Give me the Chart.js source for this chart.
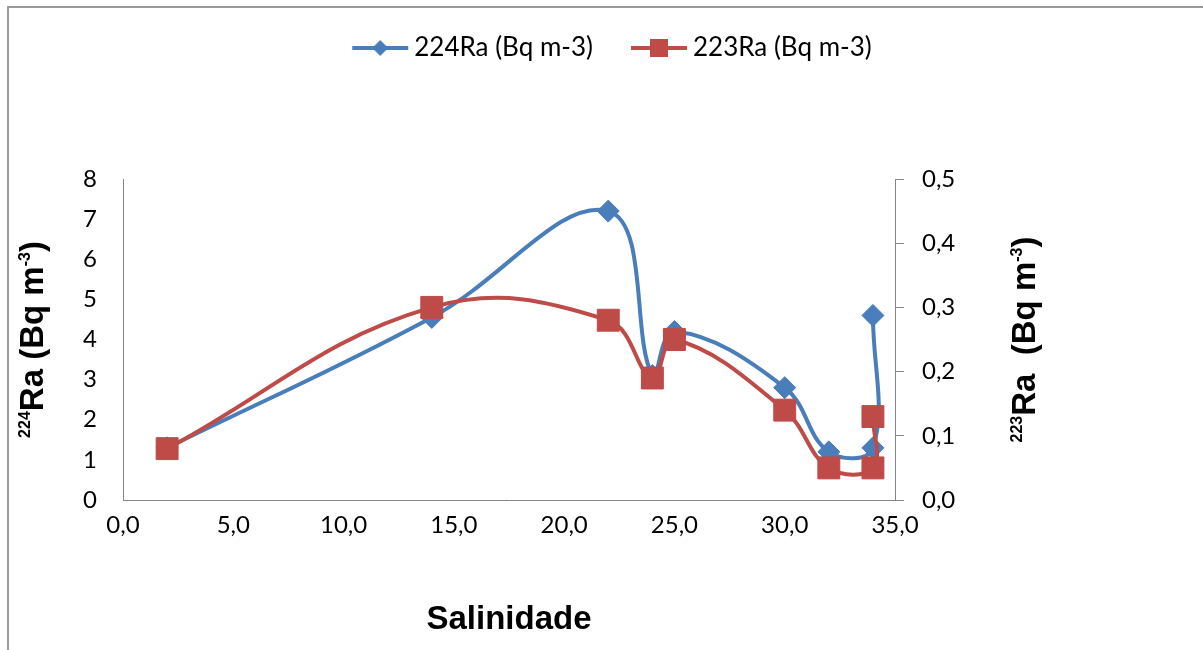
<!DOCTYPE html>
<html>
<head>
<meta charset="utf-8">
<script src="https://cdn.jsdelivr.net/npm/chart.js@4.4.1/dist/chart.umd.min.js"></script>
<style>
html, body { margin: 0; padding: 0; background: #fff; overflow: hidden; }
#frame { position: absolute; left: 7px; top: 6px; width: 1400px; height: 800px; border-top: 2px solid #9a9a9a; border-left: 2px solid #9a9a9a; }
#wrap { position: absolute; left: 0; top: 0; width: 1203px; height: 650px; }
</style>
</head>
<body>
<div id="frame"></div>
<div id="wrap"><canvas id="raChart" width="1203" height="650"></canvas></div>
<script>
// salinity of each station (x), same rows for both isotopes
const salinity = [2, 14, 22, 24, 25, 30, 32, 34, 34];
const ra224 = [1.3, 4.55, 7.2, 3.1, 4.2, 2.8, 1.2, 1.3, 4.6];
const ra223 = [0.08, 0.30, 0.28, 0.19, 0.25, 0.14, 0.05, 0.05, 0.13];

const seriesNames = ['224Ra (Bq m-3)', '223Ra (Bq m-3)'];
const xTitle = 'Salinidade';
const leftTitle = [{ text: '224', sup: true }, { text: 'Ra (Bq m' }, { text: '-3', sup: true }, { text: ')' }];
const rightTitle = [{ text: '223', sup: true }, { text: 'Ra  (Bq m' }, { text: '-3', sup: true }, { text: ')' }];

const BLUE = '#4a7ebb';
const RED = '#be4b48';
const AXIS = '#868686';

Chart.defaults.font.family = 'Lato, "Liberation Sans", sans-serif';
Chart.defaults.color = '#000';

function legendIcon(color, shape) {
    const c = document.createElement('canvas');
    c.width = 58; c.height = 20;
    const g = c.getContext('2d');
    g.strokeStyle = color; g.lineWidth = 4;
    g.beginPath(); g.moveTo(1, 10); g.lineTo(57, 10); g.stroke();
    g.fillStyle = color;
    if (shape === 'diamond') {
        g.beginPath(); g.moveTo(29, 2); g.lineTo(37, 10); g.lineTo(29, 18); g.lineTo(21, 10); g.closePath(); g.fill();
    } else {
        g.fillRect(20, 1, 18, 18);
    }
    return c;
}
const icons = [legendIcon(BLUE, 'diamond'), legendIcon(RED, 'square')];

function drawRotated(ctx, parts, x, y) {
    const mainFont = 'bold 33px "Liberation Sans", Arial, sans-serif';
    const supFont = 'bold 16px "Liberation Sans", Arial, sans-serif';
    ctx.save();
    ctx.translate(x, y);
    ctx.rotate(-Math.PI / 2);
    let total = 0;
    parts.forEach(p => { ctx.font = p.sup ? supFont : mainFont; p.w = ctx.measureText(p.text).width; total += p.w; });
    let cx = -total / 2;
    ctx.fillStyle = '#000';
    ctx.textBaseline = 'alphabetic';
    parts.forEach(p => {
        ctx.font = p.sup ? supFont : mainFont;
        ctx.fillText(p.text, cx, p.sup ? -13 : 0);
        cx += p.w;
    });
    ctx.restore();
}

const yTitles = {
    id: 'yTitles',
    afterDraw(chart) {
        const a = chart.chartArea;
        const mid = (a.top + a.bottom) / 2;
        drawRotated(chart.ctx, leftTitle, a.left - 80, mid);
        drawRotated(chart.ctx, rightTitle, a.right + 140, mid);
    }
};

const legendSpace = {
    id: 'legendSpace',
    afterInit(chart) {
        const legend = chart.legend;
        const fit = legend.fit;
        legend.fit = function () { fit.call(this); this.height = 189; };
    }
};

const comma = v => Number(v).toFixed(1).replace('.', ',');

new Chart(document.getElementById('raChart'), {
    type: 'line',
    data: {
        datasets: [
            {
                label: seriesNames[0],
                data: salinity.map((s, i) => ({ x: s, y: ra224[i] })),
                borderColor: BLUE, backgroundColor: BLUE,
                borderWidth: 4, tension: 0.4,
                pointStyle: 'rectRot', pointRadius: 11, pointBorderWidth: 1,
                pointBackgroundColor: BLUE, pointBorderColor: BLUE,
                yAxisID: 'y', order: 1
            },
            {
                label: seriesNames[1],
                data: salinity.map((s, i) => ({ x: s, y: ra223[i] })),
                borderColor: RED, backgroundColor: RED,
                borderWidth: 4, tension: 0.4,
                pointStyle: 'rect', pointRadius: 15.5, pointBorderWidth: 1,
                pointBackgroundColor: RED, pointBorderColor: RED,
                yAxisID: 'y1', order: 0
            }
        ]
    },
    options: {
        responsive: false,
        animation: false,
        layout: { padding: { top: -10, left: 28, right: 0, bottom: 0 } },
        scales: {
            x: {
                type: 'linear', min: 0, max: 35,
                grid: { display: false, drawTicks: false },
                border: { display: true, color: AXIS, width: 1 },
                ticks: { stepSize: 5, padding: 11, font: { size: 24 }, callback: v => comma(v) },
                title: { display: true, text: xTitle, padding: { top: 10, bottom: 10 }, font: { family: '"Liberation Sans", Arial, sans-serif', size: 33, weight: 'bold' } },
                afterFit: s => { s.height = 150; }
            },
            y: {
                position: 'left', min: 0, max: 8,
                grid: { display: false, drawTicks: false },
                border: { display: true, color: AXIS, width: 1 },
                ticks: { stepSize: 1, padding: 26, font: { size: 24 } },
                afterFit: s => { s.width = 95; }
            },
            y1: {
                position: 'right', min: 0, max: 0.5,
                grid: { display: true, drawOnChartArea: false, drawTicks: true, tickLength: 9, color: AXIS },
                border: { display: true, color: AXIS, width: 1 },
                ticks: { stepSize: 0.1, padding: 18, font: { size: 24 }, callback: v => comma(v) },
                afterFit: s => { s.width = 308; }
            }
        },
        plugins: {
            tooltip: { enabled: false },
            legend: {
                position: 'top',
                labels: {
                    usePointStyle: true,
                    pointStyleWidth: 42,
                    padding: 45,
                    font: { size: 26 },
                    sort: (a, b) => a.datasetIndex - b.datasetIndex,
                    generateLabels: chart => Chart.defaults.plugins.legend.labels.generateLabels(chart)
                        .map(item => Object.assign(item, { pointStyle: icons[item.datasetIndex] }))
                }
            }
        }
    },
    plugins: [legendSpace, yTitles]
});
</script>
</body>
</html>
